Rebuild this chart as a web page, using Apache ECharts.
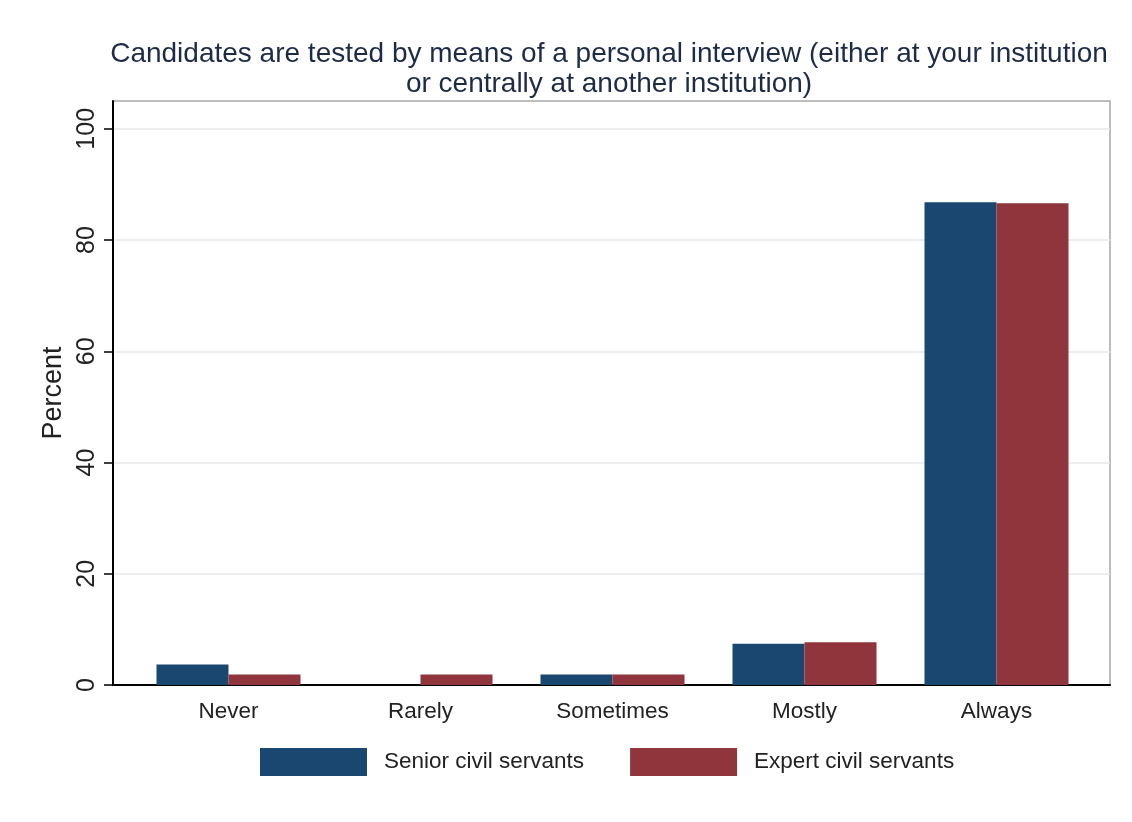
<!DOCTYPE html>
<html>
<head>
<meta charset="utf-8">
<script src="https://cdn.jsdelivr.net/npm/echarts@6/dist/echarts.min.js"></script>
<style>
  html, body { margin: 0; padding: 0; background: #fff; }
  #chart { width: 1132px; height: 822px; }
</style>
</head>
<body>
<div id="chart"></div>
<script>
// Candidates tested by personal interview – share by frequency
const categories = ["Never", "Rarely", "Sometimes", "Mostly", "Always"];
const seniorVals = [3.7, 0, 1.9, 7.4, 86.8];
const expertVals = [1.9, 1.9, 1.9, 7.7, 86.6];
const yTicks = [0, 20, 40, 60, 80, 100];

const FONT = "Liberation Sans, Arial, sans-serif";
const NAVY = "#1a476f";
const MAROON = "#90353b";

const chart = echarts.init(document.getElementById("chart"));

chart.setOption({
  backgroundColor: "#ffffff",
  animation: false,
  title: {
    text: "Candidates are tested by means of a personal interview (either at your institution\nor centrally at another institution)",
    left: 604,
    top: 34,
    textAlign: "center",
    textStyle: {
      fontFamily: FONT,
      fontSize: 28,
      fontWeight: "normal",
      color: "#1e2b47",
      lineHeight: 30,
    },
  },
  legend: {
    left: 255,
    top: 743,
    itemWidth: 107,
    itemHeight: 28,
    itemGap: 46,
    icon: "rect",
    data: ["Senior civil servants", "Expert civil servants"],
    textStyle: {
      fontFamily: FONT,
      fontSize: 22.5,
      color: "#222",
      padding: [0, 0, 0, 12],
    },
  },
  grid: [
    // frame + y axis
    { left: 113, right: 22, top: 101, bottom: 137, show: true, borderColor: "#a8a8a8", borderWidth: 1.5 },
    // bars (categories sit a bit inside the frame, like Stata)
    { left: 132.5, right: 39.5, top: 101, bottom: 137 },
  ],
  xAxis: [
    {
      gridIndex: 0,
      type: "value",
      min: 0,
      max: 1,
      axisLine: { show: true, lineStyle: { color: "#000", width: 2 } },
      axisTick: { show: false },
      axisLabel: { show: false },
      splitLine: { show: false },
    },
    {
      gridIndex: 1,
      type: "category",
      data: categories,
      axisLine: { show: false },
      axisTick: { show: false },
      axisLabel: { fontFamily: FONT, fontSize: 22.5, color: "#222", margin: 15 },
    },
  ],
  yAxis: [
    {
      gridIndex: 0,
      type: "value",
      min: 0,
      max: 105,
      interval: 20,
      name: "Percent",
      nameLocation: "middle",
      nameGap: 44,
      nameTextStyle: { fontFamily: FONT, fontSize: 27, color: "#222" },
      axisLine: { show: true, lineStyle: { color: "#000", width: 2 } },
      axisTick: { show: true, length: 9, customValues: yTicks, lineStyle: { color: "#000", width: 1.5 } },
      axisLabel: {
        customValues: yTicks,
        rotate: 90,
        margin: 13,
        fontFamily: FONT,
        fontSize: 25,
        color: "#222",
      },
      splitLine: { show: true, lineStyle: { color: "#e8e8e8", width: 1.5 } },
    },
    {
      gridIndex: 1,
      type: "value",
      min: 0,
      max: 105,
      show: false,
      splitLine: { show: false },
    },
  ],
  series: [
    {
      name: "Senior civil servants",
      type: "bar",
      xAxisIndex: 1,
      yAxisIndex: 1,
      data: seniorVals,
      itemStyle: { color: NAVY },
      barGap: "0%",
      barCategoryGap: "25%",
    },
    {
      name: "Expert civil servants",
      type: "bar",
      xAxisIndex: 1,
      yAxisIndex: 1,
      data: expertVals,
      itemStyle: { color: MAROON },
      barGap: "0%",
      barCategoryGap: "25%",
    },
  ],
});

window.addEventListener("resize", () => chart.resize());
</script>
</body>
</html>
